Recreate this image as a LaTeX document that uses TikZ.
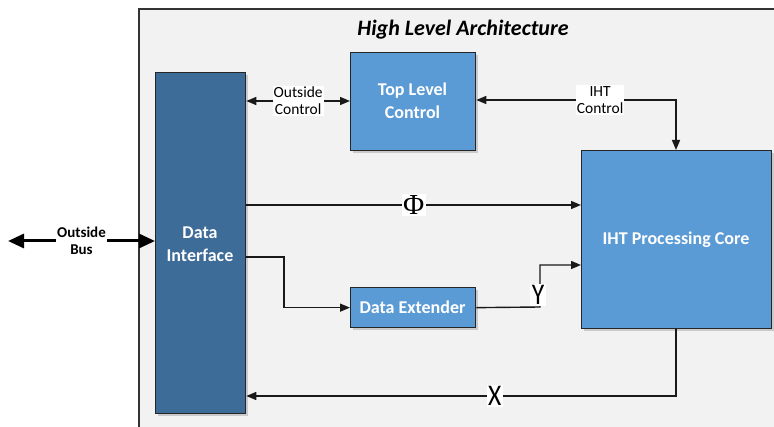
\documentclass[tikz,border=0pt]{standalone}
\usepackage{fontspec}
\setmainfont{Carlito}
\newfontfamily\serifphi{Liberation Serif}
\usetikzlibrary{arrows.meta,shadows}
\definecolor{frameg}{HTML}{F2F2F2}
\definecolor{darkb}{HTML}{3E6C98}
\definecolor{lightb}{HTML}{5B9BD5}
\newcommand{\narrowtxt}[1]{\scalebox{0.85}[1]{#1}}
\begin{document}
\begin{tikzpicture}[x=1pt,y=-1pt,
  blk/.style={draw=black!85,line width=1.3pt,fill=lightb,anchor=north west,inner sep=0pt,drop shadow={shadow xshift=2.5pt,shadow yshift=-2.5pt,opacity=0.35}},
  blabel/.style={text=white,font=\fontsize{18}{23}\selectfont\bfseries,align=center},
  conn/.style={line width=1.4pt,draw=black!90,-{Triangle[length=10pt,width=8pt]}},
  lab/.style={fill=white,inner sep=1pt,font=\fontsize{15.5}{17}\selectfont,align=center},
  big/.style={fill=white,inner sep=1.5pt,font=\fontsize{30}{31}\selectfont}]
\useasboundingbox (0,0) rectangle (774,427);
\fill[white] (0,0) rectangle (774,427);
\draw[fill=frameg,draw=black!80,line width=1.2pt] (139,9) -- (139,430) -- (776,430) -- (776,9) -- cycle;
\node[font=\fontsize{22}{24}\selectfont\bfseries\itshape] (title) at (463,30) {High Level Architecture};
\node[blk,fill=darkb,minimum width=90pt,minimum height=341pt] (di) at (155,72) {};
\node[blabel] (dil) at (200,244) {Data\\Interface};
\node[blk,minimum width=125pt,minimum height=98pt] (tlc) at (350,52) {};
\node[blabel] (tlcl) at (412.5,101) {Top Level\\Control};
\node[blk,minimum width=190pt,minimum height=178pt] (core) at (581,150) {};
\node[blabel] (corel) at (676,240) {IHT Processing Core};
\node[blk,minimum width=125pt,minimum height=40pt] (dx) at (350,287) {};
\node[blabel] (dxl) at (412.5,307) {Data Extender};
% outside bus
\coordinate (busL) at (8,241);
\draw[line width=3pt,{Triangle[length=16pt,width=14pt]}-{Triangle[length=16pt,width=14pt]}] (busL) -- (di.west |- busL) node[midway,fill=white,inner sep=1pt,font=\fontsize{15}{17}\selectfont\bfseries,align=center] {Outside\\Bus};
% outside control
\draw[conn,{Triangle[length=10pt,width=8pt]}-{Triangle[length=10pt,width=8pt]}] (di.east |- 0,101) -- (tlc.west |- 0,101) node[midway,lab] {Outside\\Control};
% IHT control
\coordinate (ihtc) at (676,100);
\draw[conn,{Triangle[length=10pt,width=8pt]}-{Triangle[length=10pt,width=8pt]}] (tlc.east |- ihtc) -- node[pos=0.62,lab] {IHT\\Control} (ihtc) -- (core.north -| ihtc);
% Phi
\draw[conn] (di.east |- 0,205) -- node[pos=0.50,big,font=\fontsize{29}{30}\selectfont\serifphi] {Φ} (core.west |- 0,205);
% DI to extender
\coordinate (d1) at (284,257);
\draw[conn] (di.east |- d1) -- (d1) |- (dx.west);
% extender to core (Y)
\coordinate (y1) at (540,307);
\coordinate (y2) at (540,265);
\draw[conn] (dx.east) -- (y1) -- (y2) -- (core.west |- y2);
\node[big] (ylab) at (538,295) {\narrowtxt{Y}};
% X
\coordinate (x1) at (676,396);
\draw[conn] (core.south -| x1) -- (x1) -- node[pos=0.422,big] {\narrowtxt{X}} (di.east |- x1);
\end{tikzpicture}
\end{document}
